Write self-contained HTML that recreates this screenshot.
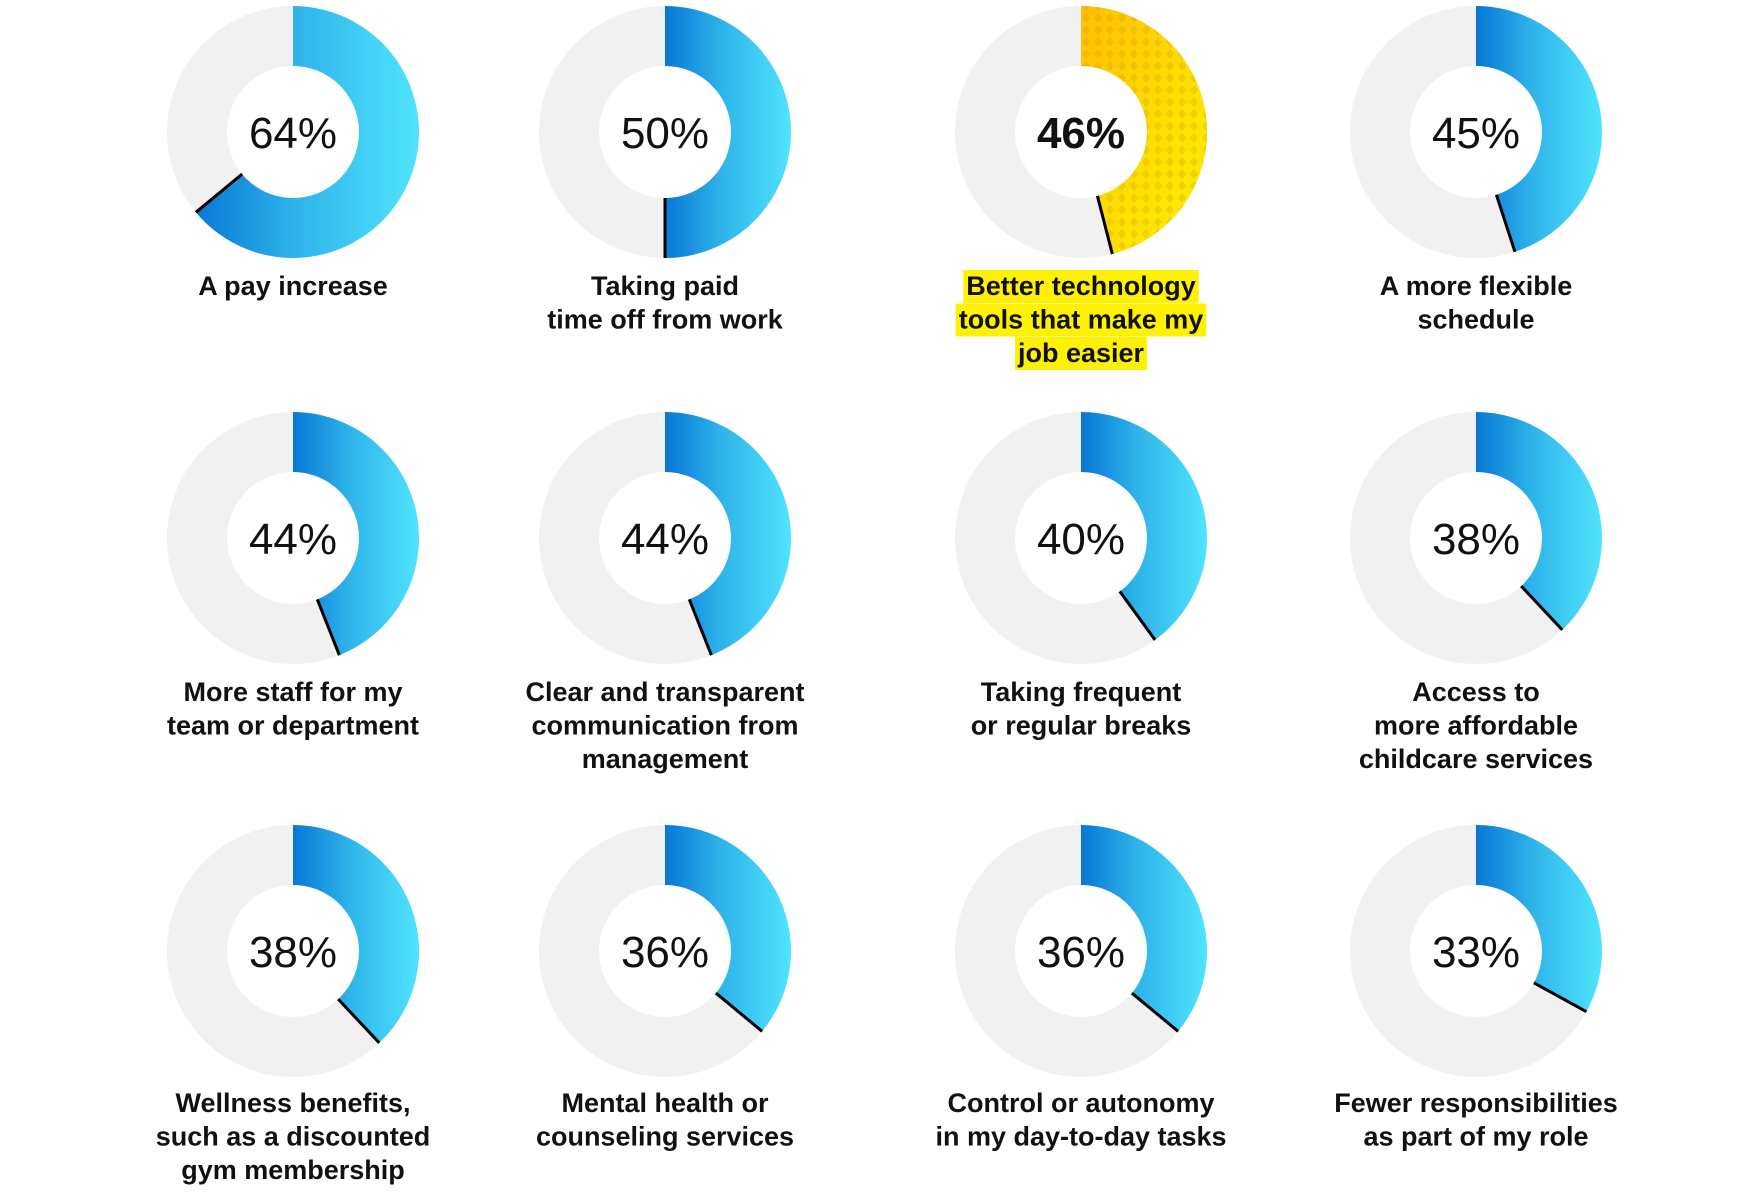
<!DOCTYPE html>
<html><head><meta charset="utf-8"><style>
html,body{margin:0;padding:0;background:#fff;}
svg{display:block;}
text{font-family:"Liberation Sans",sans-serif;}
</style></head><body>
<svg id="chart" width="1751" height="1192" viewBox="0 0 1751 1192">
<defs>
<linearGradient id="blueGrad" x1="0" y1="0" x2="1" y2="0">
<stop offset="0" stop-color="#0877d6"/><stop offset="0.45" stop-color="#2fb4ea"/><stop offset="1" stop-color="#50e4fc"/>
</linearGradient>
<linearGradient id="yellowGrad" x1="0" y1="0" x2="1" y2="1">
<stop offset="0" stop-color="#ffbf00"/><stop offset="0.6" stop-color="#ffe000"/><stop offset="1" stop-color="#fff000"/>
</linearGradient>
<pattern id="diamonds" width="12" height="12" patternUnits="userSpaceOnUse">
<path d="M6 1 L10 6 L6 11 L2 6 Z" fill="rgba(180,140,0,0.22)"/>
</pattern>
</defs>
<g id="plots"></g>
</svg>
<script>
const categories = [
 ["A pay increase"],
 ["Taking paid","time off from work"],
 ["Better technology","tools that make my","job easier"],
 ["A more flexible","schedule"],
 ["More staff for my","team or department"],
 ["Clear and transparent","communication from","management"],
 ["Taking frequent","or regular breaks"],
 ["Access to","more affordable","childcare services"],
 ["Wellness benefits,","such as a discounted","gym membership"],
 ["Mental health or","counseling services"],
 ["Control or autonomy","in my day-to-day tasks"],
 ["Fewer responsibilities","as part of my role"]
];
const values = [64,50,46,45,44,44,40,38,38,36,36,33];
const highlighted = [false,false,true,false,false,false,false,false,false,false,false,false];

const NS="http://www.w3.org/2000/svg";
const g=document.getElementById('plots');
const colX=[293,665,1081,1476], rowY=[132,538,951], labelY=[295,701,1112];
const R=126, r=66, lh=33.5, FS=27;
function pt(cx,cy,rad,v){const a=v/100*2*Math.PI;return [cx+rad*Math.sin(a),cy-rad*Math.cos(a)];}
function mk(tag,attrs){const e=document.createElementNS(NS,tag);for(const k in attrs)e.setAttribute(k,attrs[k]);return e;}
values.forEach((v,i)=>{
 const cx=colX[i%4], cy=rowY[Math.floor(i/4)], ly=labelY[Math.floor(i/4)];
 const grp=mk('g',{});
 
 
 const bg=mk('circle',{cx:cx,cy:cy,r:(R+r)/2,fill:'none',stroke:'#f1f1f1','stroke-width':R-r});
 
 
 grp.appendChild(bg);
 const [ox,oy]=pt(cx,cy,R,v),[ix,iy]=pt(cx,cy,r,v);
 const large=v>50?1:0;
 const d=`M${cx} ${cy-R} A${R} ${R} 0 ${large} 1 ${ox} ${oy} L${ix} ${iy} A${r} ${r} 0 ${large} 0 ${cx} ${cy-r} Z`;
 const sl=mk('path',{d:d,fill:highlighted[i]?'url(#yellowGrad)':'url(#blueGrad)'});
 
 
 grp.appendChild(sl);
 if(highlighted[i]){const p=mk('path',{d:d,fill:'url(#diamonds)'});grp.appendChild(p);}
 const ln=mk('line',{x1:ix,y1:iy,x2:ox,y2:oy,stroke:'#000','stroke-width':3});
 
 
 grp.appendChild(ln);
 const t=mk('text',{x:cx,y:cy+16,'text-anchor':'middle','font-size':44,'font-weight':highlighted[i]?'bold':'normal',fill:'#111'});
 t.textContent=v+'%';
 
 
 grp.appendChild(t);
 categories[i].forEach((s,j)=>{
  const y=ly+j*lh;
  const tl=mk('text',{x:cx,y:y,'text-anchor':'middle','font-size':FS,'font-weight':'bold',fill:'#111'});
  tl.textContent=s;
  
  
  if(highlighted[i]){
   const hb=mk('rect',{x:cx,y:y-25,width:0,height:33,fill:'#fff200'});
   
   
   grp.appendChild(hb);
   grp.appendChild(tl);
   g.appendChild(grp);
   const w=tl.getComputedTextLength()+6;
   hb.setAttribute('x',cx-w/2);
   hb.setAttribute('width',w);
  } else grp.appendChild(tl);
 });
 g.appendChild(grp);
});
</script>
</body></html>
